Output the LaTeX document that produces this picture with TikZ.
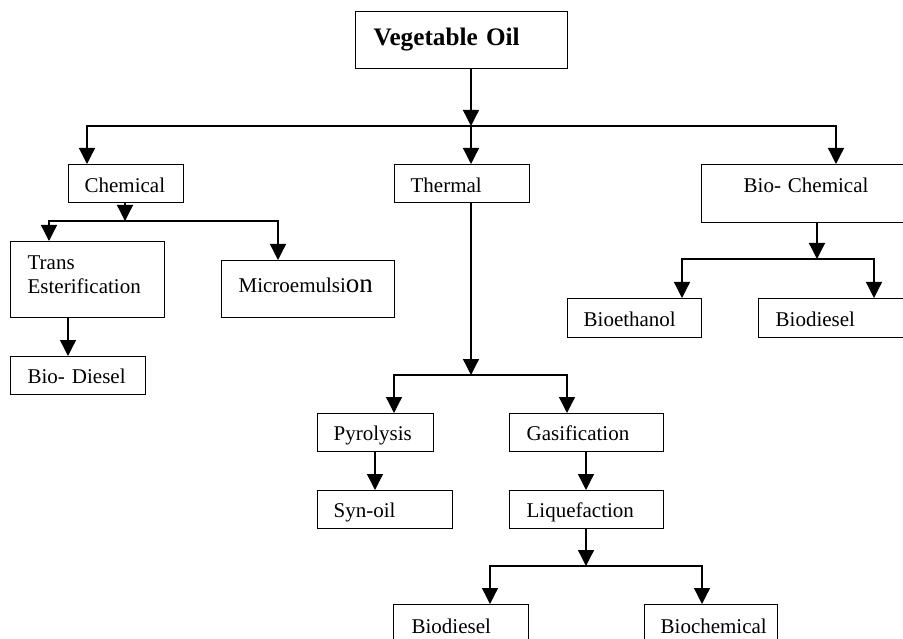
\documentclass[tikz,border=0pt]{standalone}
\usepackage{fontspec}
\setmainfont{Liberation Serif}
\usetikzlibrary{arrows.meta}
\tikzset{
  x=1pt, y=-1pt,
  box/.style={draw, line width=1.3pt, inner ysep=0pt, align=left, anchor=north west,
    font=\fontsize{21}{24}\selectfont},
  arr/.style={line width=1.3pt, -{Triangle[width=16pt,length=16pt]}},
  ln/.style={line width=1.3pt},
}
\begin{document}
\begin{tikzpicture}
\useasboundingbox (0,0) rectangle (903,639);
% boxes: (left,top), width = text width + 2*inner xsep, height = text height + text depth
\node[box, font=\fontsize{25.2}{28}\selectfont\bfseries, inner xsep=18pt, text width=176pt, text height=34pt, text depth=23pt] (veg) at (355,11) {Vegetable Oil};
\node[box, inner xsep=16pt, text width=83pt, text height=28pt, text depth=10pt] (chem) at (68,164) {Chemical};
\node[box, inner xsep=16pt, text width=103pt, text height=28pt, text depth=10pt] (therm) at (394,164) {Thermal};
\node[box, inner xsep=42pt, text width=125pt, text height=28pt, text depth=30pt] (biochem) at (701,164) {Bio- Chemical};
\node[box, inner xsep=17pt, text width=120pt, text height=28pt, text depth=48pt] (te) at (10,241) {Trans\\Esterification};
\node[box, inner xsep=17pt, text width=139pt, text height=32pt, text depth=25pt] (micro) at (221,260) {Microemulsi{\fontsize{27}{24}\selectfont on}};
\node[box, inner xsep=17pt, text width=101pt, text height=27pt, text depth=11pt] (biod1) at (10,356) {Bio- Diesel};
\node[box, inner xsep=16pt, text width=102pt, text height=28pt, text depth=11pt] (bioeth) at (567,298) {Bioethanol};
\node[box, inner xsep=17pt, text width=123pt, text height=28pt, text depth=11pt] (biod2) at (758,298) {Biodiesel};
\node[box, inner xsep=16pt, text width=84pt, text height=27pt, text depth=11pt] (pyro) at (317,413) {Pyrolysis};
\node[box, inner xsep=17pt, text width=120pt, text height=27pt, text depth=11pt] (gasif) at (509,413) {Gasification};
\node[box, inner xsep=16pt, text width=103pt, text height=27pt, text depth=11pt] (syn) at (317,490) {Syn-oil};
\node[box, inner xsep=17pt, text width=120pt, text height=27pt, text depth=11pt] (liq) at (509,490) {Liquefaction};
\node[box, inner xsep=18pt, text width=99pt, text height=29pt, text depth=17pt] (biod3) at (393,604) {Biodiesel};
\node[box, inner xsep=16pt, text width=101pt, text height=29pt, text depth=17pt] (biochem2) at (644,604) {Biochemical};
% bus points
\coordinate (b1) at (471,126);
\coordinate (b2) at (125,221);
\coordinate (b3) at (471,375);
\coordinate (b4) at (586,566);
\coordinate (b5) at (817,259);
% level 1
\draw[arr] (veg.south -| b1) -- (b1);
\draw[arr] (b1) -| ([xshift=19pt]chem.north west);
\draw[arr] (b1) -- (therm.north -| b1);
\draw[arr] (b1) -| ([xshift=135pt]biochem.north west);
% chemical
\draw[arr] (chem.south -| b2) -- (b2);
\draw[arr] (b2) -| ([xshift=39pt]te.north west);
\draw[arr] (b2) -| ([xshift=57pt]micro.north west);
\draw[arr] ([xshift=58pt]te.south west) -- ([xshift=58pt]biod1.north west);
% thermal
\draw[arr] (therm.south -| b3) -- (b3);
\draw[arr] (b3) -| ([xshift=77pt]pyro.north west);
\draw[arr] (b3) -| ([xshift=58pt]gasif.north west);
\draw[arr] ([xshift=58pt]pyro.south west) -- ([xshift=58pt]syn.north west);
\draw[arr] ([xshift=77pt]gasif.south west) -- ([xshift=77pt]liq.north west);
\draw[arr] ([xshift=77pt]liq.south west) -- (b4);
\draw[arr] (b4) -| ([xshift=97pt]biod3.north west);
\draw[arr] (b4) -| ([xshift=58pt]biochem2.north west);
% bio-chemical
\draw[arr] (biochem.south -| b5) -- (b5);
\draw[arr] (b5) -| ([xshift=115pt]bioeth.north west);
\draw[arr] (b5) -| ([xshift=116pt]biod2.north west);
\end{tikzpicture}
\end{document}
